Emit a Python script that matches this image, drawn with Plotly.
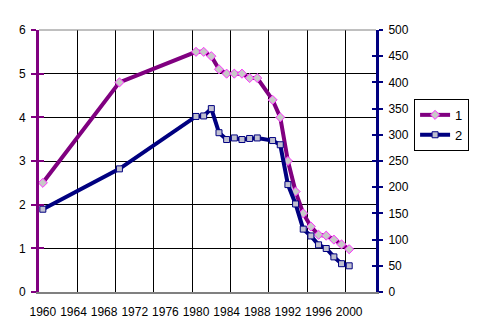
import plotly.graph_objects as go

# ---- data ----
years = [1960, 1970, 1980, 1981, 1982, 1983, 1984, 1985, 1986, 1987, 1988,
         1990, 1991, 1992, 1993, 1994, 1995, 1996, 1997, 1998, 1999, 2000]
series1 = [2.5, 4.8, 5.5, 5.5, 5.4, 5.1, 5.0, 5.0, 5.0, 4.9, 4.9,
           4.4, 4.0, 3.0, 2.3, 1.8, 1.5, 1.31, 1.29, 1.2, 1.09, 0.98]
series2 = [158, 235, 335, 336, 350, 304, 291, 294, 291, 293, 294,
           289, 281, 205, 168, 120, 107, 90, 83, 67, 54, 50]
x_tick_years = list(range(1960, 2001, 4))
x_tick_labels = [str(y) for y in x_tick_years]
series_names = ["1", "2"]

PURPLE = "#800080"
NAVY = "#000080"
FONT = "Liberation Sans, Arial, sans-serif"

fig = go.Figure()
fig.add_trace(go.Scatter(
    x=years, y=series1, name=series_names[0], mode="lines+markers",
    line=dict(color=PURPLE, width=4),
    marker=dict(symbol="diamond", size=7, color="#C8C8C8",
                line=dict(color="#FF33FF", width=1)),
    yaxis="y"))
fig.add_trace(go.Scatter(
    x=years, y=series2, name=series_names[1], mode="lines+markers",
    line=dict(color=NAVY, width=4),
    marker=dict(symbol="square", size=6, color="#C0C0D0",
                line=dict(color=NAVY, width=1)),
    yaxis="y2"))
# empty helper traces so the inner-tick overlay axes are drawn
fig.add_trace(go.Scatter(x=[], y=[], yaxis="y3", showlegend=False, hoverinfo="skip"))
fig.add_trace(go.Scatter(x=[], y=[], yaxis="y4", showlegend=False, hoverinfo="skip"))

grid_x = [1959.5 + 5 * k for k in range(1, 9)]

fig.update_layout(
    width=482, height=331,
    margin=dict(l=39, r=106, t=30, b=39),
    paper_bgcolor="white", plot_bgcolor="white",
    font=dict(family=FONT, size=12, color="black"),
    showlegend=True,
    legend=dict(x=1.113, y=0.737, xanchor="left", yanchor="top",
                bordercolor="black", borderwidth=1, bgcolor="white",
                font=dict(size=13, family=FONT), tracegroupgap=0),
    xaxis=dict(range=[1959.5, 2003.5], tickmode="array",
               tickvals=x_tick_years, ticktext=x_tick_labels,
               showgrid=False, zeroline=False,
               showline=True, linecolor="#808080", linewidth=2,
               ticks="", ticklabelstandoff=8,
               minor=dict(tickmode="array", tickvals=grid_x, showgrid=True,
                          gridcolor="black", gridwidth=1, ticks=""),
               tickfont=dict(size=12)),
    yaxis=dict(range=[0, 6], dtick=1, tick0=0, showgrid=True,
               gridcolor="black", gridwidth=1, zeroline=False,
               showline=True, linecolor=PURPLE, linewidth=3,
               ticks="outside", ticklen=5, tickwidth=2, tickcolor=PURPLE,
               ticklabelstandoff=3, tickfont=dict(size=12)),
    yaxis2=dict(range=[0, 500], dtick=50, tick0=0, overlaying="y", side="right",
                anchor="x", showgrid=False, zeroline=False,
                showline=True, linecolor=NAVY, linewidth=3,
                ticks="outside", ticklen=4, tickwidth=2, tickcolor=NAVY,
                ticklabelstandoff=3, tickfont=dict(size=12)),
    yaxis3=dict(range=[0, 6], dtick=1, tick0=0, overlaying="y", side="left",
                anchor="x", showgrid=False, zeroline=False, showline=False,
                ticks="inside", ticklen=5, tickwidth=2, tickcolor=PURPLE,
                showticklabels=False),
    yaxis4=dict(range=[0, 500], dtick=50, tick0=0, overlaying="y", side="right",
                anchor="x", showgrid=False, zeroline=False, showline=False,
                ticks="inside", ticklen=4, tickwidth=2, tickcolor=NAVY,
                showticklabels=False),
    shapes=[dict(type="line", xref="paper", yref="paper", x0=0, x1=1, y0=1, y1=1,
                 line=dict(color="#808080", width=1), layer="above")],
)

fig.write_html("out.html")
